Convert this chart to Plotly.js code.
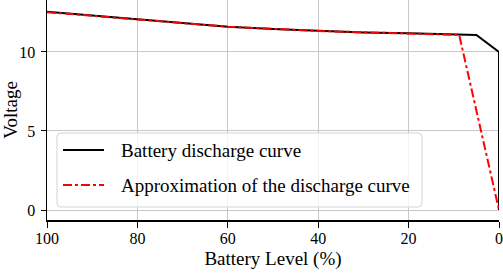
<!DOCTYPE html>
<html>
<head>
<meta charset="utf-8">
<script src="https://cdn.plot.ly/plotly-3.0.1.min.js"></script>
<style>
html,body{margin:0;padding:0;background:#fff;}
#chart{width:503px;height:277px;}
</style>
</head>
<body>
<div id="chart"></div>
<script>
// Battery level (%) and voltage
const dischargeLevel   = [100, 90, 80, 70, 60, 50, 40, 30, 20, 10, 5, 0, 0];
const dischargeVoltage = [12.55, 12.32, 12.07, 11.82, 11.6, 11.45, 11.33, 11.24, 11.18, 11.12, 11.08, 10.0, 0];
const approxLevel   = [100, 80, 60, 40, 20, 8.8, 0];
const approxVoltage = [12.52, 12.05, 11.6, 11.33, 11.18, 11.08, 0];
const seriesNames = ["Battery discharge curve", "Approximation of the discharge curve"];
const xTicks = [100, 80, 60, 40, 20, 0];
const yTicks = [0, 5, 10];

const FONT = "Liberation Serif, Times New Roman, serif";

const traces = [
  {x: dischargeLevel, y: dischargeVoltage, mode: "lines", name: seriesNames[0],
   line: {color: "#000000", width: 2}, showlegend: false, cliponaxis: false},
  {x: approxLevel, y: approxVoltage, mode: "lines", name: seriesNames[1],
   line: {color: "#ff0000", width: 2, dash: "dashdot"}, showlegend: false, cliponaxis: false}
];

// legend box (paper coords), drawn manually to match rounded box
const L = {x0: 0.0221, x1: 0.8296, y0: 0.0591, y1: 0.3955};
const rx = 4/452, ry = 4/220;
const boxPath = `M ${L.x0+rx},${L.y0} L ${L.x1-rx},${L.y0} Q ${L.x1},${L.y0} ${L.x1},${L.y0+ry} L ${L.x1},${L.y1-ry} Q ${L.x1},${L.y1} ${L.x1-rx},${L.y1} L ${L.x0+rx},${L.y1} Q ${L.x0},${L.y1} ${L.x0},${L.y1-ry} L ${L.x0},${L.y0+ry} Q ${L.x0},${L.y0} ${L.x0+rx},${L.y0} Z`;

const rowY = [0.318, 0.159];
const shapes = [
  {type: "path", xref: "paper", yref: "paper", path: boxPath,
   fillcolor: "rgba(255,255,255,0.8)", line: {color: "#d4d4d4", width: 1}, layer: "above"},
  {type: "line", xref: "paper", yref: "paper", x0: 0.0354, x1: 0.1261, y0: rowY[0], y1: rowY[0],
   line: {color: "#000000", width: 2}},
  {type: "line", xref: "paper", yref: "paper", x0: 0.0354, x1: 0.1261, y0: rowY[1], y1: rowY[1],
   line: {color: "#ff0000", width: 2, dash: "dashdot"}}
];
const annotations = seriesNames.map((n, i) => ({
  xref: "paper", yref: "paper", x: 0.1593, y: rowY[i], xanchor: "left", yanchor: "middle",
  text: n, showarrow: false, font: {family: FONT, size: 19, color: "#000"}
}));

const layout = {
  width: 503, height: 277,
  margin: {l: 47, r: 4, t: 0, b: 57, pad: 0},
  paper_bgcolor: "#ffffff", plot_bgcolor: "#ffffff",
  showlegend: false,
  font: {family: FONT, color: "#000"},
  xaxis: {
    range: [100, 0], tickvals: xTicks, ticktext: xTicks.map(String),
    ticks: "outside", ticklen: 6, tickwidth: 1, tickcolor: "#000",
    ticklabelstandoff: -3,
    showline: true, linecolor: "#000", linewidth: 1.5,
    showgrid: true, gridcolor: "#c8c8c8", gridwidth: 1, zeroline: false,
    tickfont: {family: FONT, size: 16, color: "#000"},
    title: {text: "Battery Level (%)", font: {family: FONT, size: 19, color: "#000"}, standoff: 6}
  },
  yaxis: {
    range: [-0.633, 13.29], tickvals: yTicks, ticktext: yTicks.map(String),
    ticks: "outside", ticklen: 5, tickwidth: 1, tickcolor: "#000",
    ticklabelstandoff: 2,
    showline: true, linecolor: "#000", linewidth: 1.5,
    showgrid: true, gridcolor: "#c8c8c8", gridwidth: 1, zeroline: false,
    tickfont: {family: FONT, size: 16, color: "#000"},
    title: {text: "Voltage", font: {family: FONT, size: 19, color: "#000"}, standoff: 6}
  },
  shapes: shapes,
  annotations: annotations
};

Plotly.newPlot("chart", traces, layout, {displayModeBar: false, staticPlot: true});
</script>
</body>
</html>
